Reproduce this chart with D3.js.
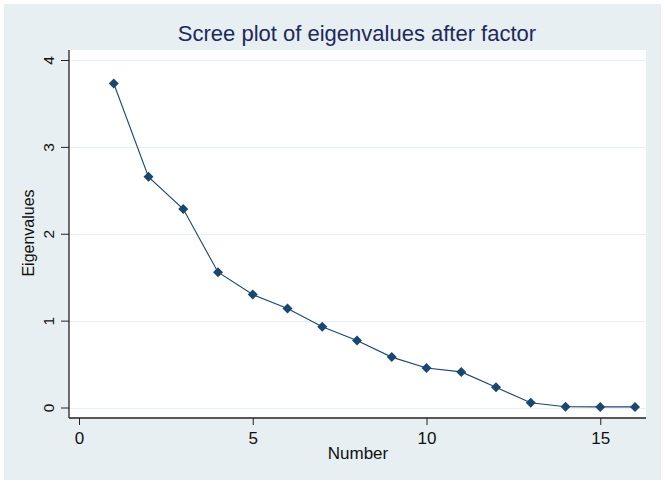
<!DOCTYPE html>
<html>
<head>
<meta charset="utf-8">
<script src="https://cdn.jsdelivr.net/npm/d3@7"></script>
<style>
  body { margin: 0; background: #fff; }
  text { font-family: "Liberation Sans", Arial, sans-serif; }
</style>
</head>
<body>
<script>
// scree plot values
var factorNumber = [1, 2, 3, 4, 5, 6, 7, 8, 9, 10, 11, 12, 13, 14, 15, 16];
var eigenvalues = [3.73, 2.655, 2.285, 1.557, 1.30, 1.14, 0.93, 0.77, 0.58, 0.455, 0.41, 0.232, 0.055, 0.008, 0.007, 0.007];
var xTicks = [0, 5, 10, 15];
var yTicks = [0, 1, 2, 3, 4];

var W = 665, H = 484;
var plot = {left: 69, right: 646, top: 50, bottom: 418};

var x = d3.scaleLinear().domain([0, 16]).range([79, 635]);
var y = d3.scaleLinear().domain([0, 4]).range([407.5, 60]);

var svg = d3.select('body').append('svg')
  .attr('width', W)
  .attr('height', H);

// graph region
svg.append('rect')
  .attr('x', 4).attr('y', 4)
  .attr('width', W - 8).attr('height', H - 8)
  .attr('fill', '#e7eff2');

// plot region
svg.append('rect')
  .attr('x', plot.left).attr('y', plot.top)
  .attr('width', plot.right - plot.left).attr('height', plot.bottom - plot.top)
  .attr('fill', '#fff');

// gridlines
svg.append('g').selectAll('line')
  .data(yTicks)
  .enter().append('line')
  .attr('x1', plot.left).attr('x2', plot.right)
  .attr('y1', function(d) { return Math.round(y(d)) + 0.5; })
  .attr('y2', function(d) { return Math.round(y(d)) + 0.5; })
  .attr('stroke', '#e9f0f2')
  .attr('stroke-width', 1.2);

// y axis
var yAxis = d3.axisLeft(y).tickValues(yTicks).tickSize(8).tickPadding(5).tickFormat(d3.format('d'));
var gy = svg.append('g')
  .attr('transform', 'translate(' + plot.left + ',0)')
  .call(yAxis);
gy.select('.domain').remove();
gy.append('line')
  .attr('x1', 0).attr('x2', 0)
  .attr('y1', plot.top).attr('y2', plot.bottom)
  .attr('stroke', '#222').attr('stroke-width', 1.3);
gy.selectAll('.tick line').attr('stroke', '#222');
gy.selectAll('.tick text')
  .attr('font-size', 15.5)
  .attr('fill', '#111')
  .attr('x', 0).attr('dy', 0)
  .attr('text-anchor', 'middle')
  .attr('transform', 'translate(-15,0) rotate(-90)');

// x axis
var xAxis = d3.axisBottom(x).tickValues(xTicks).tickSize(7).tickPadding(7).tickFormat(d3.format('d'));
var gx = svg.append('g')
  .attr('transform', 'translate(0,' + plot.bottom + ')')
  .call(xAxis);
gx.select('.domain').remove();
gx.append('line')
  .attr('x1', plot.left).attr('x2', plot.right)
  .attr('y1', 0).attr('y2', 0)
  .attr('stroke', '#222').attr('stroke-width', 1.3);
gx.selectAll('.tick line').attr('stroke', '#222');
gx.selectAll('.tick text')
  .attr('font-size', 17)
  .attr('fill', '#111');

// connecting line
var pts = factorNumber.map(function(n, i) { return [n, eigenvalues[i]]; });
svg.append('path')
  .datum(pts)
  .attr('fill', 'none')
  .attr('stroke', '#1a476f')
  .attr('stroke-width', 1.1)
  .attr('d', d3.line().x(function(d) { return x(d[0]); }).y(function(d) { return y(d[1]); }));

// diamond markers
svg.append('g').selectAll('path')
  .data(pts)
  .enter().append('path')
  .attr('transform', function(d) { return 'translate(' + x(d[0]) + ',' + y(d[1]) + ')'; })
  .attr('d', 'M0,-5L5,0L0,5L-5,0Z')
  .attr('fill', '#1a476f');

// titles
svg.append('text')
  .attr('x', 357).attr('y', 41)
  .attr('text-anchor', 'middle')
  .attr('font-size', 22)
  .attr('fill', '#1e2a5a')
  .text('Scree plot of eigenvalues after factor');

svg.append('text')
  .attr('x', 358).attr('y', 459)
  .attr('text-anchor', 'middle')
  .attr('font-size', 17)
  .attr('fill', '#111')
  .text('Number');

svg.append('text')
  .attr('transform', 'translate(34,233) rotate(-90)')
  .attr('text-anchor', 'middle')
  .attr('font-size', 16)
  .attr('fill', '#111')
  .text('Eigenvalues');
</script>
</body>
</html>
